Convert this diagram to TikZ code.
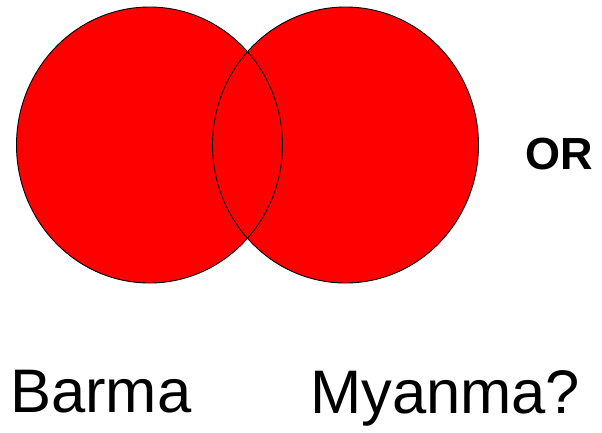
\documentclass[tikz,border=0pt]{standalone}
\usepackage{fontspec}
\setmainfont{Liberation Sans}
\begin{document}
\begin{tikzpicture}[x=1pt,y=-1pt,
  blob/.style={fill={rgb,255:red,255;green,0;blue,0}},
  rim/.style={draw=black,line width=0.9pt},
  lbl/.style={inner sep=0pt,anchor=base west,font=\fontsize{61.5}{61.5}\selectfont}]
\useasboundingbox (0,0) rectangle (602,432);
\fill[white] (0,0) rectangle (602,432);
\fill[blob] (149.5,145) ellipse [x radius=133, y radius=138];
\fill[blob] (345.5,145) ellipse [x radius=133, y radius=138];
\draw[rim] (149.5,145) ellipse [x radius=133, y radius=138];
\draw[rim] (345.5,145) ellipse [x radius=133, y radius=138];
\node[inner sep=0pt,font=\fontsize{45}{45}\bfseries] (or) at (559,154) {OR};
\node[lbl] (barma) at (10,412) {Barma};
\node[lbl] (myanma) at (310,413) {Myanma?};
\end{tikzpicture}
\end{document}
